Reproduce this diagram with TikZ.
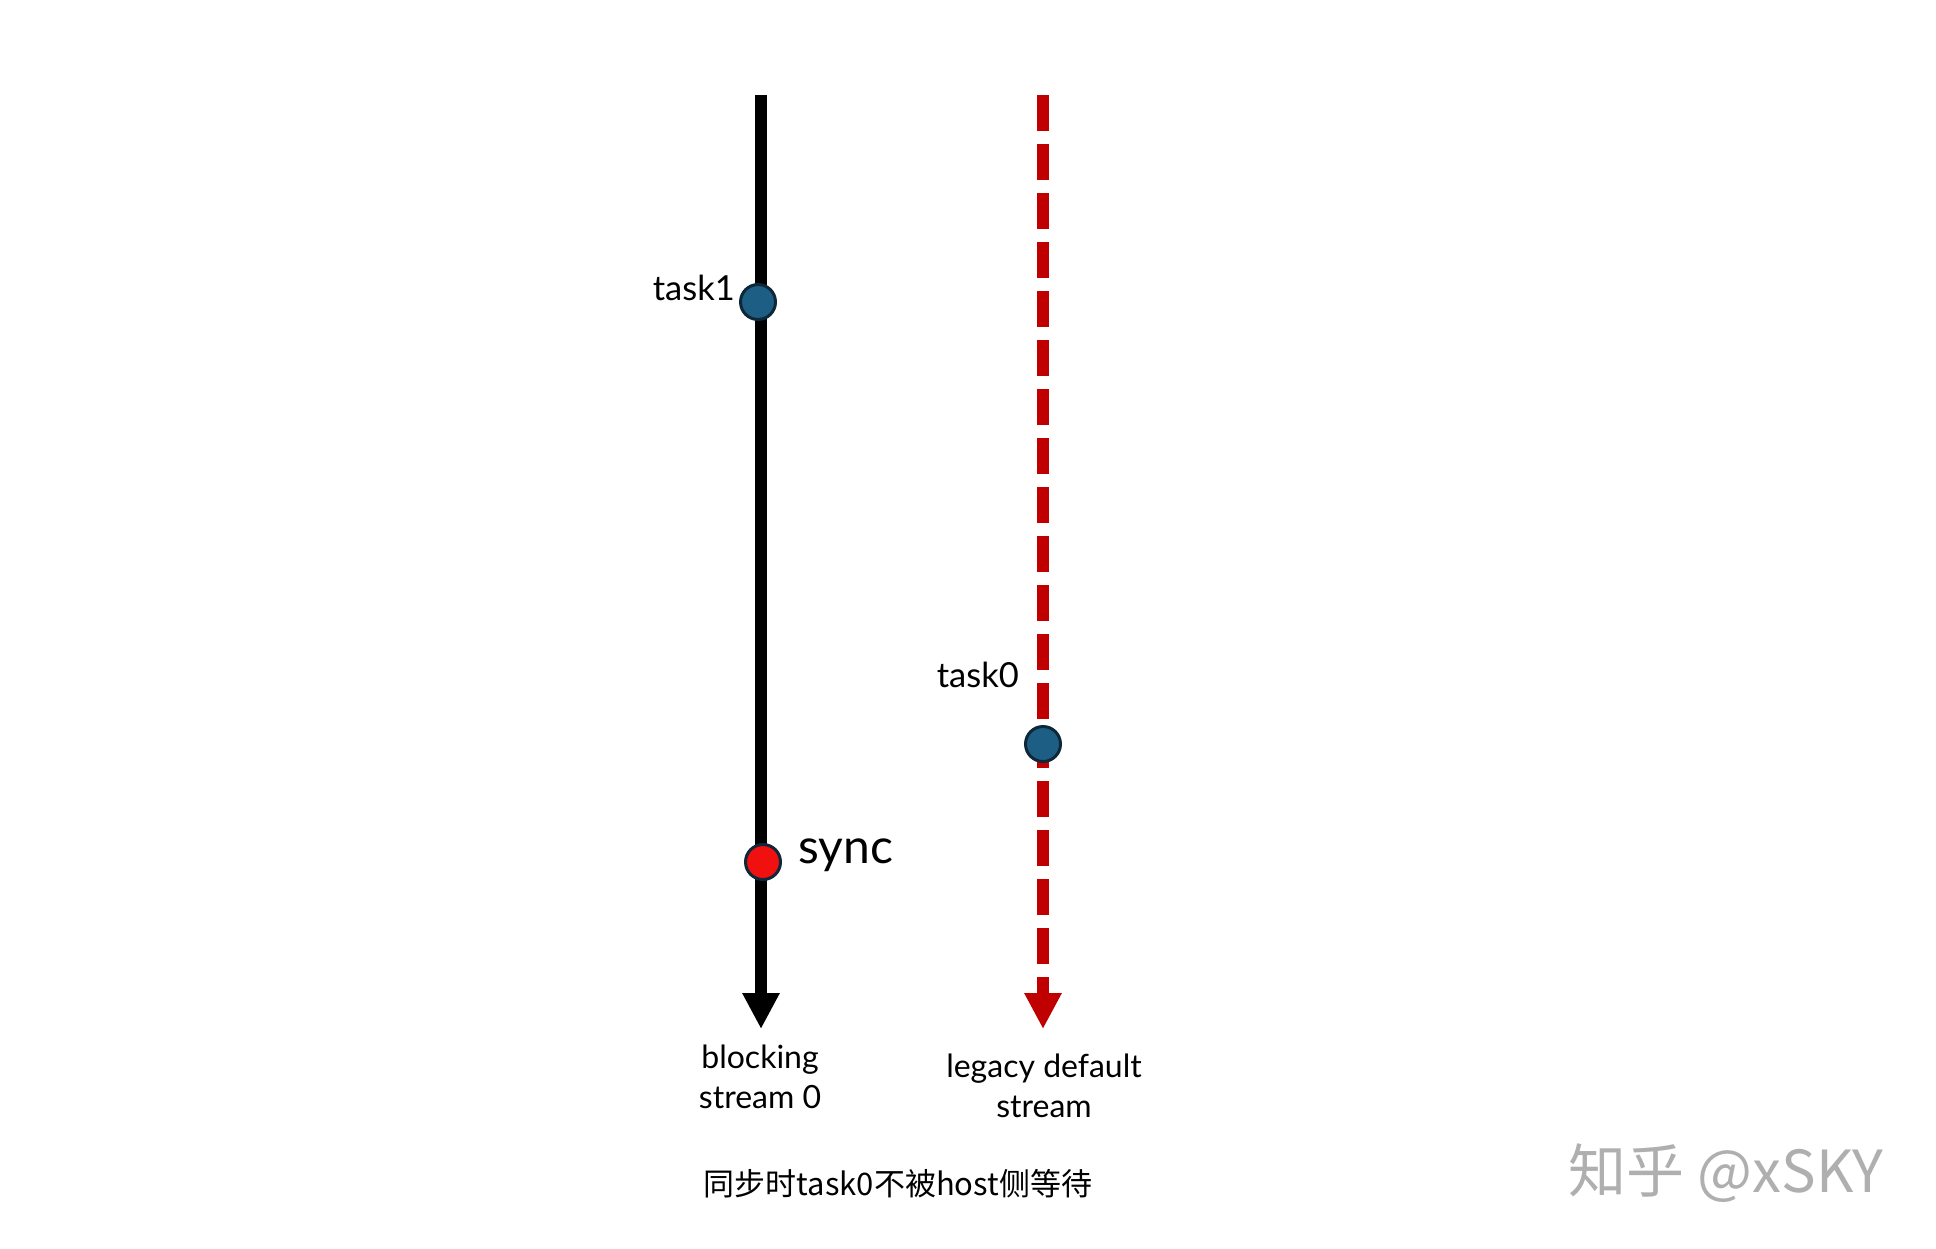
\documentclass[tikz,border=0pt]{standalone}
\usepackage{fontspec}
\setmainfont{Lato}
\newfontfamily\cjk{Noto Sans CJK SC}
\usetikzlibrary{arrows.meta}
\definecolor{dotblue}{RGB}{28,94,132}
\definecolor{dotrim}{RGB}{14,40,58}
\definecolor{syncred}{RGB}{240,16,16}
\definecolor{streamred}{RGB}{192,0,0}
\definecolor{wmgray}{RGB}{175,175,175}
\begin{document}
\begin{tikzpicture}[x=1pt,y=-1pt,
  event/.style={circle,draw=dotrim,line width=3pt,minimum size=35pt,inner sep=0pt},
  solidstream/.style={line width=12pt,draw=black,-{Triangle[length=36pt,width=35pt]}},
  dashstream/.style={line width=12pt,draw=streamred,dash pattern=on 36pt off 13pt,-{Triangle[length=36pt,width=35pt]}},
  tasklabel/.style={inner sep=0pt,font=\fontsize{34.5}{40}\selectfont},
  synclabel/.style={inner sep=0pt,font=\fontsize{48}{56}\selectfont},
  streamlabel/.style={inner sep=0pt,align=center,font=\fontsize{32}{40}\selectfont},
  caption/.style={inner sep=0pt,font=\cjk\fontsize{31}{38}\selectfont},
  watermark/.style={inner sep=0pt,text=wmgray,font=\cjk\fontsize{58}{66}\selectfont}]
\useasboundingbox[fill=white] (0,0) rectangle (1936,1248);
% stream end points
\coordinate (s0top) at (761,95);
\coordinate (s0bot) at (761,1029);
\coordinate (ldtop) at (1043,95);
\coordinate (ldbot) at (1043,1029);
\draw[solidstream] (s0top) -- (s0bot);
\draw[dashstream] (ldtop) -- (ldbot);
% events
\node[event,fill=dotblue] (task1) at (758,302) {};
\node[event,fill=dotblue] (task0) at (1043,744) {};
\node[event,fill=syncred] (sync) at (763,862) {};
% labels
\node[tasklabel,anchor=base east] (task1lbl) at (735,300) {task1};
\node[tasklabel,anchor=base east] (task0lbl) at (1019,687) {task0};
\node[synclabel,anchor=base west] (synclbl) at (798,863) {sync};
\node[streamlabel,anchor=base] (s0lbl) at (760,1108) {blocking\\stream 0};
\node[streamlabel,anchor=base] (ldlbl) at (1044,1117) {legacy default\\stream};
\node[caption,anchor=base] (cap) at (898,1195) {同步时task0不被host侧等待};
\node[watermark,anchor=base] (wm) at (1726,1192) {知乎 @xSKY};
\end{tikzpicture}
\end{document}
